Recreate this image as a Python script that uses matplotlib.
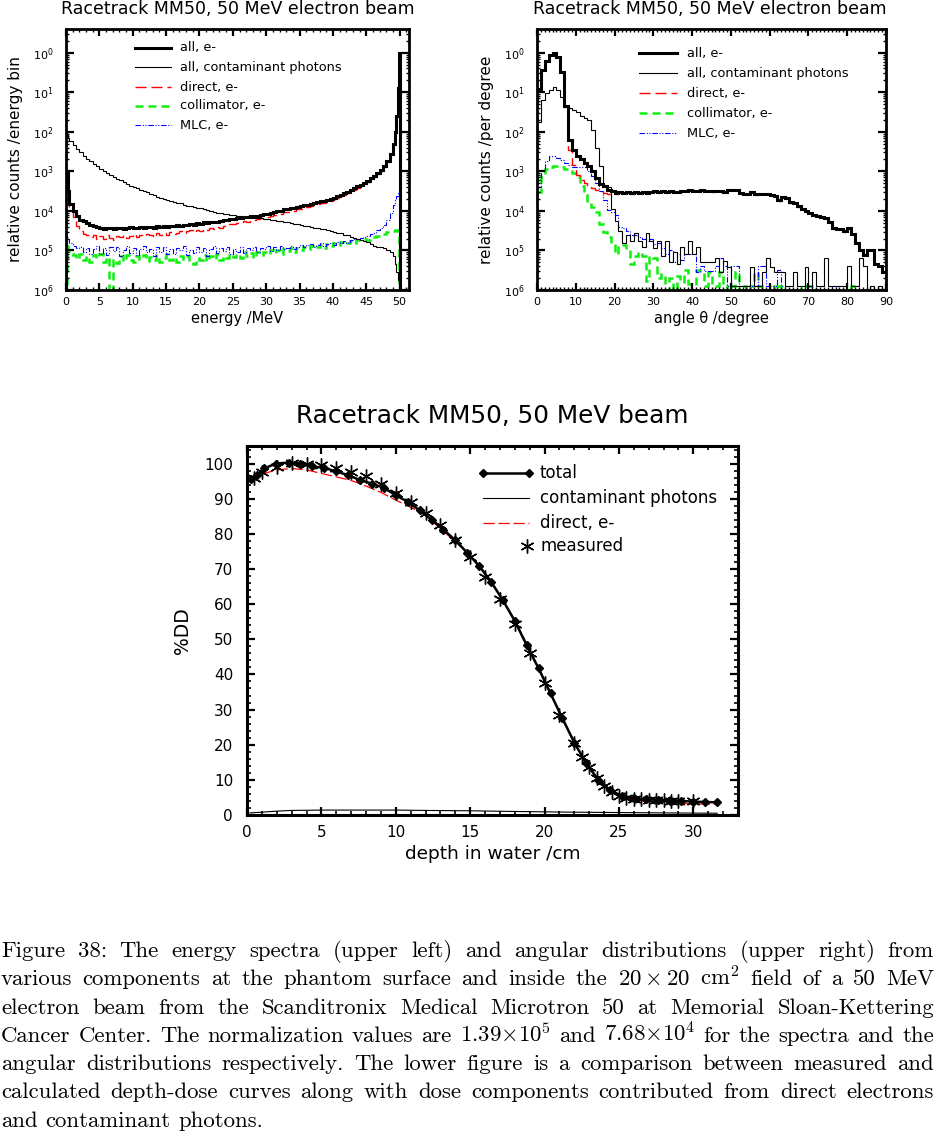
import numpy as np
import matplotlib
matplotlib.use('Agg')
import matplotlib.pyplot as plt
from matplotlib.lines import Line2D
from matplotlib.ticker import MultipleLocator, LogLocator, NullFormatter

# ---------------- data: energy spectra (log10 of relative counts / energy bin) -------------
energy_edges = [0.0, 0.1, 0.3, 0.5] + [1.0 + 0.5 * i for i in range(97)] + [49.3, 49.5, 49.7, 49.85, 50.0, 50.1]

energy_all_log = [-3.40, -3.00, -3.50, -3.82,
    -4.00, -4.13, -4.22, -4.26, -4.30, -4.35, -4.38, -4.41, -4.42, -4.45,
    -4.42, -4.44, -4.46, -4.43, -4.42, -4.45, -4.43, -4.41, -4.44, -4.42,
    -4.40, -4.43, -4.41, -4.40, -4.42, -4.39, -4.41, -4.38, -4.40, -4.37,
    -4.39, -4.36, -4.38, -4.35, -4.36, -4.33, -4.35, -4.31, -4.32, -4.29,
    -4.31, -4.28, -4.27, -4.28, -4.25, -4.24, -4.23, -4.21, -4.20, -4.19,
    -4.18, -4.16, -4.16, -4.14, -4.13, -4.12, -4.10, -4.09, -4.07, -4.05,
    -4.03, -4.01, -3.99, -3.96, -3.95, -3.93, -3.92, -3.90, -3.88, -3.86,
    -3.84, -3.82, -3.80, -3.78, -3.76, -3.74, -3.72, -3.70, -3.67, -3.63,
    -3.60, -3.55, -3.52, -3.47, -3.43, -3.38, -3.34, -3.29, -3.24, -3.18,
    -3.12, -3.04, -2.96, -2.86, -2.74, -2.55,
    -2.30, -2.00, -1.60, -0.90, 0.00, -7.0]

energy_photons_log = [-2.00, -2.08, -2.15, -2.22,
    -2.34, -2.44, -2.52, -2.60, -2.68, -2.74, -2.81, -2.87, -2.94, -3.00,
    -3.05, -3.10, -3.15, -3.19, -3.23, -3.27, -3.31, -3.36, -3.40, -3.43,
    -3.46, -3.50, -3.53, -3.57, -3.61, -3.64, -3.67, -3.70, -3.72, -3.75,
    -3.78, -3.80, -3.81, -3.84, -3.87, -3.88, -3.90, -3.92, -3.93, -3.96,
    -3.98, -4.01, -4.04, -4.05, -4.06, -4.08, -4.09, -4.10, -4.11, -4.12,
    -4.13, -4.15, -4.15, -4.17, -4.18, -4.19, -4.19, -4.20, -4.21, -4.22,
    -4.23, -4.25, -4.26, -4.27, -4.29, -4.30, -4.32, -4.33, -4.35, -4.37,
    -4.39, -4.41, -4.42, -4.44, -4.46, -4.47, -4.49, -4.50, -4.53, -4.56,
    -4.56, -4.60, -4.62, -4.66, -4.69, -4.71, -4.73, -4.75, -4.78, -4.84,
    -4.88, -4.90, -4.92, -4.95, -4.98, -5.05,
    -5.15, -5.35, -5.55, -5.75, -6.50, -7.0]

energy_direct_log = [-3.50, -3.00, -3.60, -3.95,
    -4.15, -4.38, -4.50, -4.58, -4.62, -4.66, -4.60, -4.70, -4.64, -4.72,
    -4.62, -4.69, -4.74, -4.63, -4.67, -4.60, -4.68, -4.63, -4.58, -4.66,
    -4.60, -4.64, -4.58, -4.62, -4.66, -4.57, -4.61, -4.55, -4.60, -4.53,
    -4.58, -4.55, -4.51, -4.56, -4.52, -4.49, -4.54, -4.48, -4.50, -4.45,
    -4.48, -4.43, -4.46, -4.41, -4.42, -4.37, -4.39, -4.34, -4.33, -4.30,
    -4.31, -4.26, -4.27, -4.23, -4.22, -4.20, -4.19, -4.16, -4.15, -4.12,
    -4.11, -4.09, -4.07, -4.04, -4.03, -4.00, -3.99, -3.96, -3.94, -3.92,
    -3.90, -3.87, -3.86, -3.83, -3.81, -3.79, -3.76, -3.74, -3.70, -3.67,
    -3.63, -3.59, -3.55, -3.50, -3.46, -3.41, -3.37, -3.32, -3.27, -3.21,
    -3.15, -3.07, -2.99, -2.89, -2.77, -2.58,
    -2.32, -2.02, -1.62, -0.90, 0.00, -7.0]

energy_collimator_log = [-6.50, -4.88, -5.02, -5.10,
    -5.12, -5.22, -5.10, -5.25, -5.14, -5.30, -5.12, -5.20, -5.08, -5.28,
    -5.16, -6.40, -5.22, -5.32, -5.15, -5.26, -5.12, -5.24, -5.30, -5.14,
    -5.22, -5.11, -5.27, -5.17, -5.24, -5.12, -5.28, -5.18, -5.10, -5.25,
    -5.16, -5.30, -5.13, -5.22, -5.15, -5.27, -5.33, -5.18, -5.24, -5.12,
    -5.26, -5.15, -5.21, -5.10, -5.24, -5.14, -5.20, -5.09, -5.17, -5.08,
    -5.19, -5.05, -5.15, -5.06, -5.18, -5.04, -5.12, -5.03, -5.10, -4.99,
    -5.06, -4.98, -5.08, -4.97, -5.02, -4.95, -5.04, -4.94, -4.99, -4.91,
    -4.97, -4.88, -4.94, -4.90, -4.86, -4.93, -4.84, -4.89, -4.82, -4.87,
    -4.79, -4.84, -4.80, -4.76, -4.81, -4.74, -4.72, -4.70, -4.73, -4.68,
    -4.66, -4.63, -4.60, -4.58, -4.54, -4.52,
    -4.50, -4.49, -4.48, -4.50, -5.80, -7.0]

energy_mlc_log = [-6.50, -4.65, -4.72, -4.80,
    -4.88, -4.95, -4.90, -5.05, -4.93, -5.10, -4.97, -4.88, -5.08, -4.95,
    -5.12, -4.92, -5.02, -4.90, -5.15, -4.98, -4.89, -5.06, -4.94, -5.12,
    -4.96, -4.88, -5.05, -4.97, -5.14, -4.92, -5.03, -4.90, -5.08, -4.96,
    -5.10, -4.93, -5.00, -4.89, -5.12, -4.98, -5.06, -4.91, -5.04, -4.95,
    -5.13, -4.97, -4.88, -5.07, -4.95, -5.02, -4.92, -5.10, -4.96, -5.04,
    -4.90, -5.06, -4.94, -4.99, -4.91, -5.03, -4.93, -4.97, -4.89, -5.01,
    -4.92, -4.98, -4.88, -4.97, -4.93, -4.88, -4.96, -4.90, -4.86, -4.92,
    -4.87, -4.84, -4.90, -4.85, -4.82, -4.88, -4.83, -4.80, -4.85, -4.79,
    -4.82, -4.77, -4.80, -4.74, -4.72, -4.70, -4.68, -4.66, -4.63, -4.59,
    -4.55, -4.49, -4.43, -4.35, -4.23, -4.05,
    -3.85, -3.72, -3.63, -3.55, -3.50, -7.0]

# ---------------- data: angular distributions (log10 of relative counts / degree) ----------
angle_edges = list(range(0, 91))

angle_direct_log = [
    -0.92, -0.44, -0.22, -0.05, 0.00, -0.12, -0.48, -1.35, -2.47, -2.85,
    -3.10, -3.22, -3.30, -3.38, -3.43, -3.47, -3.50, -3.55, -3.57, -3.56,
    -3.56, -3.53, -3.55, -3.53, -3.56, -3.52, -3.54, -3.52, -3.55, -3.53,
    -3.50, -3.52, -3.50, -3.53, -3.50, -3.51, -3.52, -3.50, -3.50, -3.48,
    -3.50, -3.49, -3.48, -3.49, -3.50, -3.51, -3.49, -3.50, -3.53, -3.47,
    -3.47, -3.48, -3.56, -3.57, -3.56, -3.51, -3.59, -3.58, -3.57, -3.57,
    -3.60, -3.62, -3.74, -3.66, -3.68, -3.79, -3.80, -3.89, -3.95, -4.02,
    -4.06, -4.10, -4.15, -4.16, -4.18, -4.27, -4.45, -4.47, -4.46, -4.53,
    -4.43, -4.60, -4.82, -5.00, -5.12, -4.98, -4.98, -5.35, -5.40, -5.55]

angle_all_log = [
    -0.92, -0.44, -0.22, -0.05, 0.00, -0.12, -0.48, -1.35, -2.20, -2.47,
    -2.60, -2.68, -2.80, -2.86, -3.00, -3.17, -3.32, -3.38, -3.46, -3.50,
    -3.55, -3.53, -3.54, -3.53, -3.55, -3.52, -3.54, -3.52, -3.54, -3.53,
    -3.50, -3.52, -3.50, -3.52, -3.50, -3.51, -3.51, -3.50, -3.50, -3.48,
    -3.49, -3.49, -3.48, -3.49, -3.50, -3.50, -3.49, -3.50, -3.52, -3.47,
    -3.47, -3.48, -3.55, -3.56, -3.56, -3.51, -3.58, -3.58, -3.57, -3.57,
    -3.60, -3.62, -3.73, -3.66, -3.68, -3.78, -3.80, -3.88, -3.95, -4.01,
    -4.06, -4.10, -4.14, -4.16, -4.18, -4.27, -4.44, -4.47, -4.46, -4.52,
    -4.43, -4.59, -4.81, -5.00, -5.11, -4.98, -4.98, -5.34, -5.40, -5.55]

angle_photons_log = [
    -1.75, -1.20, -1.03, -0.95, -0.86, -0.95, -1.12, -1.37, -1.40, -1.45,
    -1.50, -1.60, -1.65, -1.71, -1.95, -2.41, -2.87, -3.36, -3.40, -3.95,
    -4.25, -4.50, -4.80, -4.60, -4.75, -4.55, -4.75, -4.90, -4.55, -4.75,
    -4.95, -4.75, -5.15, -4.75, -5.30, -5.05, -5.35, -4.90, -5.10, -4.75,
    -5.10, -4.90, -5.30, -5.30, -5.30, -5.30, -5.18, -5.55, -5.27, -5.43,
    -5.90, -5.90, -5.90, -5.90, -5.90, -5.43, -5.90, -5.90, -5.55, -5.18,
    -5.43, -5.55, -5.55, -5.55, -5.90, -5.90, -5.55, -5.90, -5.90, -5.43,
    -5.90, -5.55, -5.90, -5.90, -5.18, -5.90, -5.90, -5.90, -5.90, -5.90,
    -5.40, -5.90, -5.90, -5.18, -5.40, -7.00, -5.90, -7.00, -5.90, -7.00]

angle_collimator_log = [
    -3.53, -3.06, -2.95, -2.88, -2.87, -2.87, -2.88, -2.93, -2.98, -3.05,
    -3.15, -3.38, -3.60, -3.77, -3.89, -4.02, -4.32, -4.53, -4.66, -4.83,
    -5.08, -4.87, -4.87, -5.00, -5.35, -5.14, -5.05, -5.14, -5.77, -5.14,
    -5.20, -5.70, -5.60, -6.00, -5.70, -7.00, -5.65, -5.80, -5.50, -5.85,
    -7.00, -5.50, -5.55, -5.90, -5.55, -5.90, -5.90, -5.55, -5.90, -7.00,
    -5.90, -5.55, -7.00, -5.90, -7.00, -5.90, -5.55, -5.90, -7.00, -7.00,
    -5.90, -7.00, -5.90, -7.00, -7.00, -7.00, -7.00, -7.00, -5.90, -5.90,
    -5.90, -5.90, -7.00, -7.00, -7.00, -7.00, -7.00, -7.00, -7.00, -7.00,
    -7.00, -5.90, -7.00, -7.00, -7.00, -7.00, -7.00, -7.00, -7.00, -7.00]

angle_mlc_log = [
    -3.40, -3.00, -2.75, -2.62, -2.60, -2.65, -2.72, -2.80, -2.85, -2.88,
    -2.90, -2.90, -2.88, -3.00, -3.12, -3.30, -3.50, -3.73, -3.98, -4.03,
    -4.10, -4.40, -4.42, -4.50, -4.60, -4.60, -4.65, -4.70, -4.75, -4.72,
    -4.84, -4.80, -4.95, -5.10, -5.00, -5.30, -5.10, -5.25, -5.10, -5.10,
    -5.10, -5.55, -5.39, -5.52, -5.52, -5.52, -5.40, -5.18, -5.40, -5.90,
    -5.40, -5.40, -5.90, -5.90, -5.90, -5.90, -5.90, -5.40, -5.40, -5.90,
    -5.90, -5.90, -5.50, -5.90, -7.00, -7.00, -7.00, -7.00, -7.00, -5.90,
    -5.90, -7.00, -7.00, -7.00, -7.00, -7.00, -5.90, -7.00, -7.00, -7.00,
    -7.00, -7.00, -7.00, -7.00, -7.00, -7.00, -7.00, -7.00, -7.00, -7.00]

log_tick_labels = [r'$10^{0}$', r'$10^{1}$', r'$10^{2}$', r'$10^{3}$',
                   r'$10^{4}$', r'$10^{5}$', r'$10^{6}$']
log_tick_values = [1e0, 1e-1, 1e-2, 1e-3, 1e-4, 1e-5, 1e-6]
series_labels = ['all, e-', 'all, contaminant photons', 'direct, e-', 'collimator, e-', 'MLC, e-']

# ---------------- data: depth dose ----------------
depth_total = [0.3, 0.7, 1.15, 1.95, 2.8, 3.55, 4.4, 5.2, 5.95, 6.8, 7.6, 8.4, 9.2, 10.0,
               10.8, 11.6, 12.45, 13.2, 14.0, 14.8, 15.6, 16.4, 17.2, 18.0, 18.8, 19.6,
               20.4, 21.2, 22.0, 22.8, 23.6, 24.4, 25.2, 26.0, 26.8, 27.6, 28.4, 29.2,
               30.0, 30.8, 31.6]
dose_total = [95.5, 96.7, 98.6, 100.0, 100.3, 100.0, 99.2, 98.8, 97.8, 96.7, 95.3, 94.3,
              93.1, 91.0, 89.1, 86.7, 83.9, 81.2, 78.2, 74.6, 70.9, 66.4, 61.1, 55.2, 48.3,
              41.7, 34.6, 27.5, 20.6, 14.7, 10.1, 7.1, 5.4, 4.7, 4.5, 4.3, 4.1, 4.0, 3.8,
              3.7, 3.6]

depth_measured = [0.5, 1.0, 2.0, 3.0, 4.0, 5.0, 6.0, 7.0, 8.0, 9.0, 10.0, 11.0, 12.0, 13.0,
                  14.0, 15.0, 16.0, 17.0, 18.0, 19.0, 20.0, 21.0, 22.0, 22.5, 23.0, 23.5,
                  24.0, 24.5, 25.0, 25.5, 26.0, 26.5, 27.0, 27.5, 28.0, 28.5, 29.0, 30.0]
dose_measured = [96.0, 97.6, 99.0, 100.3, 99.8, 99.5, 98.6, 97.6, 96.4, 94.3, 91.7, 89.1,
                 86.0, 82.5, 78.2, 73.3, 67.8, 61.6, 54.3, 46.2, 37.6, 28.4, 20.4, 16.6,
                 13.7, 10.4, 8.2, 6.6, 5.4, 4.9, 4.6, 4.5, 4.4, 4.3, 4.2, 4.1, 4.0, 4.0]

depth_direct = [0.2, 1.0, 2.0, 3.0, 4.0, 5.0, 6.0, 7.0, 8.0, 9.0, 10.0, 11.0, 12.0, 13.0,
                14.0, 15.0, 16.0, 17.0, 18.0, 19.0, 20.0, 21.0, 22.0, 23.0, 24.0, 25.0,
                26.0, 27.0, 28.0, 29.0, 30.0, 31.0, 31.6]
dose_direct = [94.5, 97.0, 98.2, 98.6, 98.2, 97.2, 96.2, 95.2, 93.6, 91.8, 89.6, 87.6,
               85.2, 81.5, 77.8, 73.8, 68.5, 62.5, 55.5, 47.0, 38.2, 29.0, 20.4, 13.2,
               8.0, 5.2, 4.2, 3.8, 3.5, 3.3, 3.2, 3.1, 3.0]

depth_photons = [0.2, 1.0, 2.0, 3.0, 5.0, 8.0, 10.0, 12.0, 15.0, 18.0, 20.0, 22.0, 25.0,
                 28.0, 31.6]
dose_photons = [0.6, 0.8, 1.1, 1.3, 1.4, 1.4, 1.4, 1.3, 1.2, 1.0, 0.9, 0.8, 0.7, 0.6, 0.5]

dd_labels = ['total', 'contaminant photons', 'direct, e-', 'measured']

caption_lines = [
    "Figure 38: The energy spectra (upper left) and angular distributions (upper right) from",
    r"various components at the phantom surface and inside the $20\times20$ cm$^2$ field of a 50 MeV",
    "electron beam from the Scanditronix Medical Microtron 50 at Memorial Sloan-Kettering",
    r"Cancer Center. The normalization values are $1.39{\times}10^5$ and $7.68{\times}10^4$ for the spectra and the",
    "angular distributions respectively. The lower figure is a comparison between measured and",
    "calculated depth-dose curves along with dose components contributed from direct electrons",
    "and contaminant photons.",
]

# ---------------- figure ----------------
W, H = 935, 1140
fig = plt.figure(figsize=(W / 100, H / 100), dpi=100)
fig.patch.set_facecolor('white')

RED = '#ff0000'
GREEN = '#11ee11'
BLUE = '#0000ff'

def fx(px):
    return px / W

def fy(py):
    return 1 - py / H

def key_line(x0, x1, y, **kw):
    fig.add_artist(Line2D([fx(x0), fx(x1)], [fy(y), fy(y)], transform=fig.transFigure, **kw))

styles = {
    'all': dict(color='black', lw=2.2, ls='-'),
    'phot': dict(color='black', lw=0.8, ls='-'),
    'direct': dict(color=RED, lw=1.0, ls=(0, (8, 3.5))),
    'coll': dict(color=GREEN, lw=1.8, ls=(0, (3.2, 2.0))),
    'mlc': dict(color=BLUE, lw=0.8, ls=(0, (5, 1.5, 1, 1.5, 1, 1.5))),
}

def style_log_axes(ax, xmax, xmajor, xminor):
    ax.set_yscale('log')
    ax.set_ylim(1e-6, 10 ** 0.6)
    ax.set_xlim(0, xmax)
    ax.xaxis.set_major_locator(MultipleLocator(xmajor))
    ax.xaxis.set_minor_locator(MultipleLocator(xminor))
    ax.set_yticks(log_tick_values)
    ax.set_yticklabels(log_tick_labels)
    ax.yaxis.set_minor_locator(LogLocator(base=10, subs=np.arange(2, 10)))
    ax.yaxis.set_minor_formatter(NullFormatter())
    ax.tick_params(which='both', direction='in', top=True, right=True)
    ax.tick_params(which='major', length=5, width=1.6)
    ax.tick_params(axis='x', which='major', labelsize=8, pad=5)
    ax.tick_params(axis='y', which='major', labelsize=8, pad=9, length=6)
    ax.tick_params(which='minor', length=2.5, width=1.0)
    for s in ax.spines.values():
        s.set_linewidth(2.0)

def draw_set(ax, edges, all_l, phot_l, dir_l, coll_l, mlc_l):
    ax.stairs(10 ** np.array(coll_l), edges, baseline=None, fill=False, **styles['coll'])
    ax.stairs(10 ** np.array(mlc_l), edges, baseline=None, fill=False, **styles['mlc'])
    ax.stairs(10 ** np.array(dir_l), edges, baseline=None, fill=False, **styles['direct'])
    ax.stairs(10 ** np.array(phot_l), edges, baseline=None, fill=False, **styles['phot'])
    ax.stairs(10 ** np.array(all_l), edges, baseline=None, fill=False, **styles['all'])

def legend_set(x0, x1, xt, ys):
    for key, lab, y in zip(['all', 'phot', 'direct', 'coll', 'mlc'], series_labels, ys):
        key_line(x0, x1, y, **styles[key])
        fig.text(fx(xt), fy(y), lab, fontsize=9.3, va='center', ha='left')

# ---- top-left: energy spectra
ax1 = fig.add_axes([fx(66), fy(290), fx(409) - fx(66), fy(29) - fy(290)])
draw_set(ax1, energy_edges, energy_all_log, energy_photons_log, energy_direct_log,
         energy_collimator_log, energy_mlc_log)
style_log_axes(ax1, 51.4, 5, 1)
ax1.set_xlabel('energy /MeV', fontsize=10.5)
ax1.xaxis.set_label_coords(0.5, -0.08)
ax1.set_ylabel('relative counts /energy bin', fontsize=11)
ax1.yaxis.set_label_coords(-0.125, 0.5)
fig.text(fx(238), fy(14), 'Racetrack MM50, 50 MeV electron beam', fontsize=12.5,
         ha='center', va='baseline')
legend_set(135, 171, 180, [48, 67, 87, 106, 125])

# ---- top-right: angular distributions
ax2 = fig.add_axes([fx(537), fy(290), fx(886) - fx(537), fy(29) - fy(290)])
draw_set(ax2, angle_edges, angle_all_log, angle_photons_log, angle_direct_log,
         angle_collimator_log, angle_mlc_log)
style_log_axes(ax2, 90, 10, 1)
ax2.set_xlabel('angle θ /degree', fontsize=10.5)
ax2.xaxis.set_label_coords(0.5, -0.08)
ax2.set_ylabel('relative counts /per degree', fontsize=11)
ax2.yaxis.set_label_coords(-0.123, 0.5)
fig.text(fx(710), fy(14), 'Racetrack MM50, 50 MeV electron beam', fontsize=12.5,
         ha='center', va='baseline')
legend_set(639, 677, 687, [53, 73, 93, 113, 133])

# ---- bottom: depth dose
ax3 = fig.add_axes([fx(247), fy(815), fx(738) - fx(247), fy(446) - fy(815)])
ast = (6, 2, 0)
ax3.plot(depth_photons, dose_photons, color='black', lw=0.8)
ax3.plot(depth_direct, dose_direct, color=RED, lw=0.9, ls=(0, (9, 3)))
ax3.plot(depth_total, dose_total, color='black', lw=1.8, marker='D', ms=4, mfc='black',
         mec='black')
ax3.plot(depth_measured, dose_measured, ls='none', marker=ast, ms=10, mew=1.0,
         color='black')
ax3.set_xlim(0, 33.0)
ax3.set_ylim(0, 105)
ax3.xaxis.set_major_locator(MultipleLocator(5))
ax3.xaxis.set_minor_locator(MultipleLocator(1))
ax3.yaxis.set_major_locator(MultipleLocator(10))
ax3.yaxis.set_minor_locator(MultipleLocator(2))
ax3.tick_params(which='both', direction='in', top=True, right=True)
ax3.tick_params(which='major', length=6, width=1.6, labelsize=11)
ax3.tick_params(axis='y', which='major', pad=10)
ax3.tick_params(axis='x', which='major', pad=7)
ax3.tick_params(which='minor', length=3, width=1.2)
for s in ax3.spines.values():
    s.set_linewidth(2.2)
ax3.set_xlabel('depth in water /cm', fontsize=13.3)
ax3.xaxis.set_label_coords(0.5, -0.082)
ax3.set_ylabel('%DD', fontsize=13.5)
ax3.yaxis.set_label_coords(-0.112, 0.5)
fig.text(fx(492), fy(423), 'Racetrack MM50, 50 MeV beam', fontsize=17.8, ha='center',
         va='baseline')

# legend for the depth-dose plot
key_line(483, 529, 473, color='black', lw=1.8, marker='D', ms=4, markevery=[0, 1])
key_line(483, 529, 498, color='black', lw=0.8)
key_line(483, 529, 523, color=RED, lw=0.9, ls=(0, (9, 3)))
fig.add_artist(Line2D([fx(527)], [fy(546)], transform=fig.transFigure, ls='none',
                      marker=ast, ms=10, mew=1.0, color='black'))
for lab, y in zip(dd_labels, [473, 498, 523, 546]):
    fig.text(fx(540), fy(y), lab, fontsize=12, va='center', ha='left')

# ---- caption (justified)
FS = 16.4
renderer = fig.canvas.get_renderer()
base_y = [957, 985.3, 1013.6, 1041.9, 1070.2, 1098.5, 1126.8]
for i, (line, yb) in enumerate(zip(caption_lines, base_y)):
    words = line.split(' ')
    objs = [fig.text(0, fy(yb), w, fontsize=FS, family='cmr10', math_fontfamily='cm',
                     va='baseline', ha='left') for w in words]
    widths = [o.get_window_extent(renderer).width for o in objs]
    last = (i == len(caption_lines) - 1)
    natural = FS * 100 / 72 * 0.333
    if last:
        gap = natural
    else:
        gap = max(2.0, (W - 2 - sum(widths)) / (len(words) - 1))
    x = 1.0
    for o, w in zip(objs, widths):
        o.set_x(fx(x))
        x += w + gap

fig.savefig('out.png', dpi=100, facecolor='white')
